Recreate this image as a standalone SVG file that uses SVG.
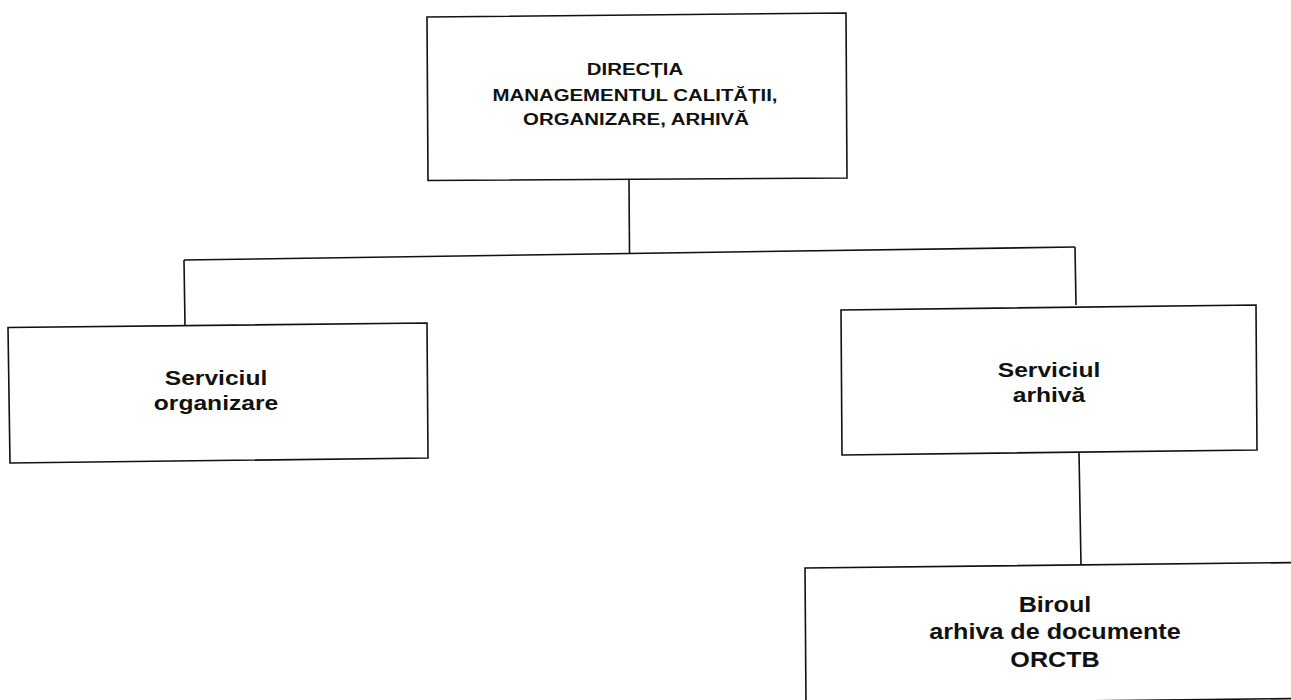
<svg xmlns="http://www.w3.org/2000/svg" width="1291" height="700" viewBox="0 0 1291 700">
<style>
.box{fill:none;stroke:#111;stroke-width:1.6;stroke-linejoin:miter}
.con{fill:none;stroke:#111;stroke-width:1.6}
text{font-family:"Liberation Sans",Arial,sans-serif;font-weight:bold;fill:#111;text-anchor:middle}
.t1{font-size:17px}
.t2{font-size:20.5px}
.t3{font-size:21.5px}
</style>
<rect x="0" y="0" width="1291" height="700" fill="#fff"/>
<g id="connectors">
<line class="con" x1="629" y1="179" x2="629.5" y2="253.5"/>
<line class="con" x1="184" y1="260" x2="1075" y2="247"/>
<line class="con" x1="184" y1="260" x2="185" y2="326"/>
<line class="con" x1="1075" y1="247" x2="1076" y2="305"/>
<line class="con" x1="1079" y1="452" x2="1081" y2="565"/>
</g>
<g id="node-directia">
<polygon class="box" points="427,17 846,13 847,178 428,180.5"/>
<text class="t1" transform="translate(635 75) scale(1.2 1)">DIRECȚIA</text>
<text class="t1" transform="translate(635 101) scale(1.2 1)">MANAGEMENTUL CALITĂȚII,</text>
<text class="t1" transform="translate(636 125) scale(1.2 1)">ORGANIZARE, ARHIVĂ</text>
</g>
<g id="node-organizare">
<polygon class="box" points="8,327.5 427,323 428,458 10,463"/>
<text class="t2" transform="translate(216 385) scale(1.2 1)">Serviciul</text>
<text class="t2" transform="translate(216 410) scale(1.2 1)">organizare</text>
</g>
<g id="node-arhiva">
<polygon class="box" points="841,310 1256,305 1257,450 842,455"/>
<text class="t2" transform="translate(1049 377) scale(1.2 1)">Serviciul</text>
<text class="t2" transform="translate(1049 402) scale(1.2 1)">arhivă</text>
</g>
<g id="node-biroul">
<polygon class="box" points="805,568 1300,562.5 1300,698.5 806,704"/>
<text class="t3" transform="translate(1055 612) scale(1.17 1)">Biroul</text>
<text class="t3" transform="translate(1055 639) scale(1.17 1)">arhiva de documente</text>
<text class="t3" transform="translate(1055 667) scale(1.17 1)">ORCTB</text>
</g>
</svg>
